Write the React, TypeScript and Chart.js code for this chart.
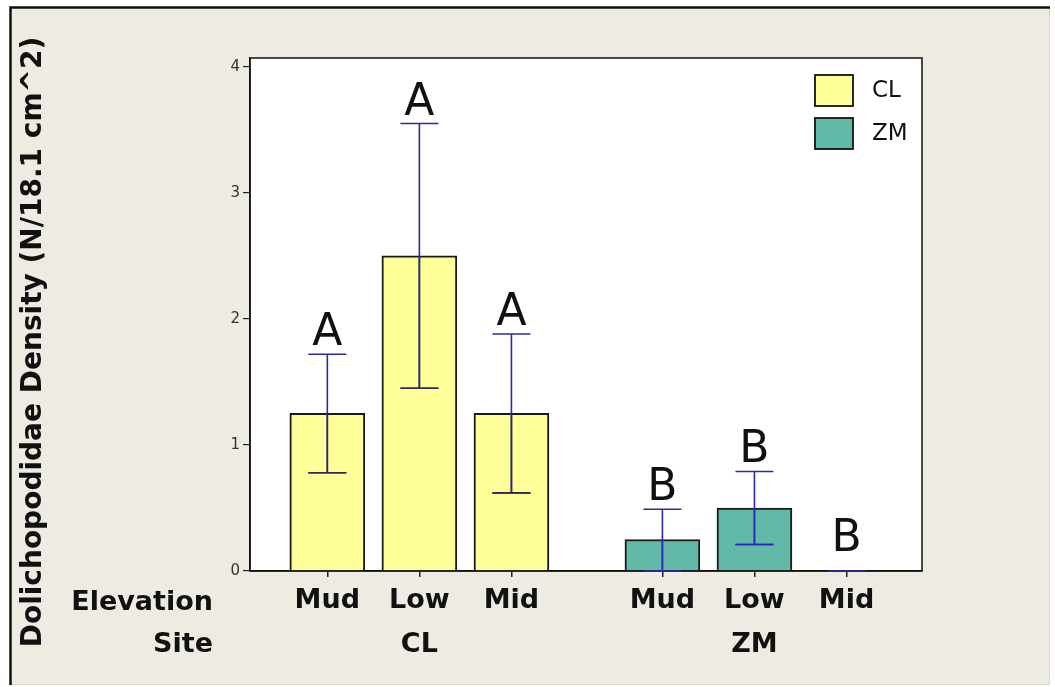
import { useEffect, useRef } from 'react';
import { Chart, registerables } from 'chart.js';

Chart.register(...registerables);

// Mean density per site and elevation, with the ends of each error bar
const sites = ['CL', 'ZM'];
const elevations = ['Mud', 'Low', 'Mid'];
const clMeans = [1.25, 2.5, 1.25];
const clLower = [0.78, 1.45, 0.62];
const clUpper = [1.72, 3.55, 1.88];
const zmMeans = [0.25, 0.5, 0];
const zmLower = [0, 0.21, 0];
const zmUpper = [0.49, 0.79, 0];
// Significance groupings printed above each bar
const clGroups = ['A', 'A', 'A'];
const zmGroups = ['B', 'B', 'B'];
const yTicks = [0, 1, 2, 3, 4];

const yTitle = 'Dolichopodidae Density (N/18.1 cm^2)';
const rowTitles = ['Elevation', 'Site'];

const FONT = "'DejaVu Sans', Verdana, sans-serif";
const GROUP_STRIDE = 3.64; // bar slots per site group, including the gap
const fills = ['#FFFF99', '#62B9A8'];
const insideErr = ['#2E2E44', '#2A2AC0'];
const ERR_COLOR = '#2B2BA6';

const means = [clMeans, zmMeans];
const lowers = [clLower, zmLower];
const uppers = [clUpper, zmUpper];
const groups = [clGroups, zmGroups];

const slots = sites.flatMap((_, s) => elevations.map((_e, e) => s * GROUP_STRIDE + e));
const slotLabel = (v: number) => {
  const i = slots.findIndex((p) => Math.abs(p - v) < 1e-6);
  return i < 0 ? '' : elevations[i % elevations.length];
};

const framePlugin = {
  id: 'frame',
  beforeDraw(chart: any) {
    const { ctx, chartArea: a, width, height } = chart;
    ctx.save();
    ctx.fillStyle = '#ffffff';
    ctx.fillRect(0, 0, width, height);
    ctx.fillStyle = '#EEEBE3';
    ctx.fillRect(10, 7, 1039, 677);
    ctx.strokeStyle = '#D8D6D0';
    ctx.lineWidth = 1;
    ctx.beginPath();
    ctx.moveTo(1049.5, 7);
    ctx.lineTo(1049.5, 684.5);
    ctx.lineTo(10, 684.5);
    ctx.stroke();
    ctx.strokeStyle = '#111';
    ctx.lineWidth = 2.5;
    ctx.beginPath();
    ctx.moveTo(10.5, 685);
    ctx.lineTo(10.5, 7.5);
    ctx.lineTo(1050, 7.5);
    ctx.stroke();
    ctx.fillStyle = '#ffffff';
    ctx.fillRect(a.left, a.top, a.right - a.left, a.bottom - a.top);
    ctx.restore();
  },
};

const annotatePlugin = {
  id: 'annotate',
  afterDatasetsDraw(chart: any) {
    const { ctx, chartArea: a, scales } = chart;
    const y = scales.y;
    ctx.save();
    // plot box
    ctx.strokeStyle = '#111';
    ctx.lineWidth = 1.5;
    ctx.strokeRect(a.left, a.top, a.right - a.left, a.bottom - a.top);

    chart.data.datasets.forEach((_ds: any, s: number) => {
      const meta = chart.getDatasetMeta(s);
      meta.data.forEach((bar: any, e: number) => {
        const x = bar.x;
        const yHi = y.getPixelForValue(uppers[s][e]);
        const yLo = y.getPixelForValue(lowers[s][e]);
        const top = bar.y;
        const base = bar.base;
        const cap = 19;
        const whisker = () => {
          ctx.beginPath();
          ctx.moveTo(x, yLo);
          ctx.lineTo(x, yHi);
          ctx.moveTo(x - cap, yHi);
          ctx.lineTo(x + cap, yHi);
          ctx.moveTo(x - cap, yLo);
          ctx.lineTo(x + cap, yLo);
          ctx.stroke();
        };
        ctx.lineWidth = 1.6;
        ctx.strokeStyle = ERR_COLOR;
        whisker();
        // the part of the whisker lying over the filled bar
        if (base - top > 1) {
          ctx.save();
          ctx.beginPath();
          ctx.rect(x - 37.5, top, 75, base - top - 1);
          ctx.clip();
          ctx.strokeStyle = insideErr[s];
          whisker();
          ctx.restore();
        }
        // grouping letter
        ctx.fillStyle = '#111';
        ctx.font = `44px ${FONT}`;
        ctx.textAlign = 'center';
        ctx.textBaseline = 'alphabetic';
        ctx.fillText(groups[s][e], x, Math.min(yHi - 9, top - 20));
      });
    });

    // legend inside the plot, top right
    ctx.font = `23px ${FONT}`;
    ctx.textAlign = 'left';
    ctx.textBaseline = 'middle';
    chart.data.datasets.forEach((ds: any, s: number) => {
      const bx = 815;
      const by = 75 + s * 43;
      ctx.fillStyle = ds.backgroundColor;
      ctx.fillRect(bx, by, 38, 31);
      ctx.strokeStyle = '#111';
      ctx.lineWidth = 1.8;
      ctx.strokeRect(bx, by, 38, 31);
      ctx.fillStyle = '#111';
      ctx.fillText(ds.label, 872, by + 16);
    });
    ctx.restore();
  },
  afterDraw(chart: any) {
    const { ctx, scales } = chart;
    const x = scales.x;
    ctx.save();
    ctx.fillStyle = '#111';
    ctx.font = `bold 27px ${FONT}`;
    ctx.textBaseline = 'middle';
    ctx.textAlign = 'right';
    ctx.fillText(rowTitles[0], 213, 603);
    ctx.fillText(rowTitles[1], 213, 645);
    ctx.textAlign = 'center';
    sites.forEach((site, s) => {
      const c = x.getPixelForValue(s * GROUP_STRIDE + (elevations.length - 1) / 2);
      ctx.fillText(site, c, 645);
    });
    // y axis title
    ctx.translate(34, 342);
    ctx.rotate(-Math.PI / 2);
    ctx.font = `bold 28px ${FONT}`;
    ctx.fillText(yTitle, 0, 0);
    ctx.restore();
  },
};

export default function App() {
  const ref = useRef<HTMLCanvasElement | null>(null);

  useEffect(() => {
    if (!ref.current) return;
    const chart = new Chart(ref.current, {
      type: 'bar',
      data: {
        datasets: sites.map((site, s) => ({
          label: site,
          data: means[s].map((v, e) => ({ x: s * GROUP_STRIDE + e, y: v })),
          backgroundColor: fills[s],
          borderColor: '#1a1a1a',
          borderWidth: 2,
          barThickness: 75,
          grouped: false,
        })),
      },
      options: {
        responsive: false,
        animation: false,
        devicePixelRatio: 1,
        layout: { padding: { top: 58, right: 133, left: 0, bottom: 0 } },
        plugins: {
          legend: { display: false },
          tooltip: { enabled: false },
        },
        scales: {
          x: {
            type: 'linear',
            offset: false,
            min: -0.84,
            max: GROUP_STRIDE + elevations.length - 1 + 0.82,
            afterBuildTicks: (axis: any) => {
              axis.ticks = slots.map((v) => ({ value: v }));
            },
            afterFit: (scale: any) => {
              scale.height = 116;
            },
            ticks: {
              autoSkip: false,
              maxRotation: 0,
              minRotation: 0,
              padding: 8,
              color: '#111',
              font: { family: FONT, size: 27, weight: 'bold' },
              callback: (v: any) => slotLabel(Number(v)),
            },
            grid: { drawOnChartArea: false, offset: false, tickLength: 6, color: '#222', lineWidth: 1.5 },
            border: { color: '#111', width: 1.5 },
          },
          y: {
            min: 0,
            max: 4.07,
            afterBuildTicks: (axis: any) => {
              axis.ticks = yTicks.map((v) => ({ value: v }));
            },
            afterFit: (scale: any) => {
              scale.width = 250;
            },
            ticks: {
              padding: 3,
              color: '#333',
              font: { family: FONT, size: 15 },
            },
            grid: { drawOnChartArea: false, tickLength: 7, color: '#222', lineWidth: 1.2 },
            border: { color: '#111', width: 1.5 },
          },
        },
      },
      plugins: [framePlugin, annotatePlugin],
    } as any);
    return () => chart.destroy();
  }, []);

  return (
    <div style={{ position: 'absolute', left: 0, top: 0, width: 1055, height: 687 }}>
      <canvas ref={ref} width={1055} height={687} style={{ display: 'block' }} />
    </div>
  );
}
